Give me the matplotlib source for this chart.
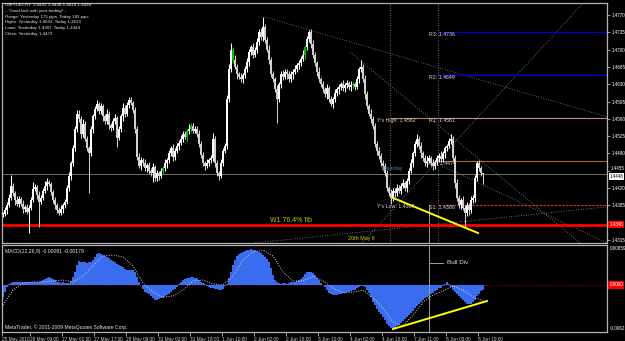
import numpy as np
import matplotlib.pyplot as plt
from matplotlib import font_manager
from matplotlib.transforms import blended_transform_factory

# pick a narrow font if we have one (MT4 uses a small condensed font)
installed = {f.name for f in font_manager.fontManager.ttflist}
small_font = 'Liberation Sans Narrow' if 'Liberation Sans Narrow' in installed else 'Liberation Sans'
k = 1.0 if small_font == 'Liberation Sans Narrow' else 0.82
plt.rcParams['font.family'] = [small_font, 'DejaVu Sans']

# GBPUSD H1 closes, pips above 1.4000, one row per 16 bars
close_pips = [
    368, 375, 385, 400, 425, 410, 395, 388, 398, 388, 378, 382, 372, 380, 395, 418,
    422, 405, 392, 400, 415, 425, 432, 428, 412, 395, 385, 375, 370, 378, 385, 392,
    420, 445, 470, 500, 540, 570, 560, 530, 550, 520, 500, 490, 540, 565, 580, 590,
    575, 585, 565, 555, 570, 548, 542, 556, 562, 522, 540, 565, 582, 570, 588, 598,
    592, 578, 540, 482, 465, 476, 470, 460, 466, 455, 450, 462, 440, 450, 445, 455,
    460, 470, 476, 490, 500, 482, 495, 505, 512, 520, 530, 524, 535, 540, 546, 536,
    540, 530, 510, 486, 470, 465, 470, 476, 480, 520, 470, 450, 445, 470, 495, 505,
    600, 660, 700, 680, 665, 650, 645, 640, 648, 660, 675, 695, 705, 690, 700, 715,
    735, 725, 745, 720, 700, 680, 650, 640, 620, 600, 630, 650, 645, 655, 650, 640,
    650, 655, 660, 668, 672, 682, 690, 705, 722, 735, 712, 690, 672, 655, 640, 630,
    620, 610, 622, 600, 590, 600, 612, 620, 625, 630, 622, 628, 632, 625, 628, 630,
    625, 640, 660, 665, 640, 610, 585, 570, 560, 545, 510, 495, 485, 470, 465, 450,
    420, 410, 400, 415, 410, 420, 415, 425, 430, 420, 435, 455, 470, 490, 510, 520,
    505, 490, 480, 470, 475, 480, 470, 465, 472, 480, 485, 478, 490, 500, 505, 515,
    520, 480, 430, 400, 385, 395, 380, 370, 385, 375, 395, 400, 440, 470, 460, 450,
    448,
]
# upper / lower shadow lengths in pips
wick_hi = [
    4, 7, 6, 8, 21, 5, 4, 9, 5, 4, 7, 4, 6, 5, 7, 14,
    6, 4, 8, 6, 5, 9, 8, 4, 5, 4, 7, 4, 6, 8, 4, 6,
    6, 7, 5, 8, 6, 8, 8, 5, 9, 5, 6, 5, 6, 5, 6, 8,
    5, 8, 5, 4, 9, 5, 4, 6, 8, 4, 6, 5, 9, 5, 6, 7,
    6, 5, 5, 6, 8, 6, 5, 9, 5, 6, 5, 8, 5, 6, 5, 6,
    5, 8, 5, 6, 5, 9, 5, 6, 5, 8, 5, 6, 5, 9, 5, 6,
    6, 5, 8, 5, 6, 5, 9, 5, 6, 11, 5, 6, 5, 8, 5, 6,
    8, 10, 13, 6, 9, 6, 5, 8, 5, 6, 9, 6, 5, 8, 5, 8,
    6, 8, 21, 6, 5, 9, 5, 6, 5, 8, 5, 6, 9, 6, 5, 6,
    6, 5, 8, 5, 6, 5, 9, 5, 6, 5, 6, 8, 6, 5, 9, 5,
    6, 5, 8, 5, 6, 5, 9, 5, 6, 5, 8, 5, 6, 5, 9, 5,
    5, 6, 5, 14, 6, 8, 6, 5, 9, 5, 6, 5, 8, 5, 6, 5,
    6, 5, 8, 5, 6, 9, 6, 5, 8, 5, 6, 5, 9, 5, 6, 9,
    5, 8, 5, 6, 9, 6, 5, 8, 5, 6, 5, 9, 5, 6, 5, 6,
    9, 5, 6, 8, 6, 5, 9, 5, 6, 5, 8, 5, 6, 5, 6, 5,
    0,
]
wick_lo = [
    6, 4, 8, 4, 5, 6, 9, 4, 6, 5, 8, 6, 5, 43, 5, 4,
    5, 8, 51, 5, 4, 6, 9, 4, 6, 5, 8, 6, 5, 4, 9, 6,
    5, 6, 8, 6, 5, 7, 6, 9, 6, 5, 5, 80, 6, 8, 6, 5,
    6, 5, 9, 5, 6, 8, 6, 5, 6, 20, 5, 6, 9, 6, 5, 6,
    5, 6, 8, 6, 5, 9, 5, 6, 8, 6, 5, 18, 6, 5, 9, 5,
    6, 5, 9, 5, 6, 8, 6, 5, 9, 5, 6, 5, 8, 5, 6, 5,
    5, 6, 8, 6, 5, 9, 5, 6, 5, 6, 8, 6, 8, 5, 6, 5,
    6, 5, 6, 8, 5, 9, 5, 6, 8, 6, 5, 9, 5, 6, 5, 6,
    5, 6, 8, 6, 5, 9, 5, 6, 5, 49, 6, 8, 6, 5, 9, 5,
    5, 9, 5, 6, 8, 6, 5, 9, 5, 6, 8, 6, 5, 9, 5, 6,
    5, 6, 9, 6, 5, 8, 5, 6, 9, 6, 5, 8, 5, 6, 9, 6,
    6, 5, 8, 5, 6, 9, 6, 5, 8, 5, 6, 9, 6, 5, 8, 5,
    5, 6, 13, 6, 9, 6, 5, 8, 5, 6, 9, 6, 5, 8, 5, 6,
    6, 9, 6, 5, 8, 5, 6, 9, 6, 5, 8, 5, 6, 9, 6, 5,
    5, 6, 9, 6, 5, 8, 5, 26, 6, 9, 6, 5, 8, 5, 6, 5,
    19,
]
green_bars = [80, 92, 94, 115, 151, 175]

# MACD main (histogram), units of 1e-5
macd_hist = [
    -180, -100, -30,
    15, 30, 40, 45, 45, 40, 45, 50, 45, 40, 45,
    45, 40, 45, 50, 45, 60, 75, 90,
    110, 120, 110, 90, 70,
    50, 40, 35, 40, 30, 25, 30, 60,
    120, 200, 300, 360,
    340, 350, 340, 330, 345, 350, 380,
    420, 460, 480, 470, 450,
    440, 420, 400, 380, 360, 340, 320, 300, 280, 270,
    240, 230, 230, 225, 220, 200,
    120, 40, 0,
    -60, -100, -120, -140,
    -170, -200, -220, -225, -210, -200, -190, -170,
    -150, -130, -100, -80, -60, -30,
    10, 40, 70, 90, 100, 110, 115, 120, 110, 100, 80,
    50, 30, 10, -10, -30,
    -40, -50, -60, -60, -70, -80, -60, -20,
    20, 100, 200, 300, 380, 430, 460,
    480, 500, 510, 520, 530, 540, 530, 520, 510, 500,
    480, 450, 420, 390, 350,
    250, 150, 80, 50,
    30, 20, 25, 30, 20, 30, 40, 45, 50, 60, 70,
    90, 120, 160, 190, 200, 195, 180,
    150, 110, 70, 30, 0, -30,
    -80, -120, -140, -150, -155, -150, -140,
    -130, -125, -120, -110, -100, -90, -80, -70, -50, -30,
    -20, -10, -30,
    -70, -120, -180,
    -250, -300, -360, -400,
    -440, -480, -520, -580, -620,
    -650, -660, -650,
    -620, -600, -570, -540, -510,
    -480, -450, -420, -390, -350, -310, -280,
    -250, -220, -200, -180, -160, -140, -120,
    -90, -70, -50, -40, -20, 10,
    40, 20, -30,
    -80, -110, -140, -160,
    -200, -230, -260, -280, -290, -280, -260, -220,
    -170, -130, -90, -70,
]
# MACD signal line, read every 5 bars, units of 1e-5
signal_step = 5
macd_signal = [
    -300, -75, 30, 45, 45, 60, 75, 45, 135, 285,
    435, 450, 420, 285, 30, -105, -180, -165, -75, 60,
    75, 15, 0, 135, 375, 495, 525, 435, 195, 60,
    60, 135, 60, -45, -120, -105, -75, -195, -345, -555,
    -615, -450, -255, -150, -90, -15, -75, -180, -240,
]

price_ticks = [1.4770, 1.4735, 1.4700, 1.4665, 1.4630, 1.4595, 1.4560,
               1.4525, 1.4490, 1.4455, 1.4420, 1.4385, 1.4350, 1.4315]
hidden_ticks = [1.4350]          # covered by the red level box
date_labels = ['25 May 2010', '26 May 09:00', '27 May 01:00', '27 May 17:00',
               '28 May 09:00', '31 May 02:00', '31 May 18:00', '1 Jun 10:00',
               '2 Jun 02:00', '2 Jun 18:00', '3 Jun 10:00', '4 Jun 02:00',
               '4 Jun 18:00', '7 Jun 11:00', '8 Jun 03:00', '8 Jun 19:00']
date_bars = [-0.5, 13.5, 29.5, 45.5, 61.5, 77.5, 93.5, 109.5, 125.5,
             141.5, 157.5, 173.5, 189.5, 205.5, 221.5, 237.5]

# pivot levels
r3, r2, r1 = 1.4736, 1.4649, 1.4561
pivot, s1 = 1.4474, 1.4386
y_high, y_low = 1.4562, 1.4387
bid = 1.4448
fib_w1 = 1.4346
level_start = 217.5      # bar where today's pivot lines start
yday_start = 193.5
bull_div_bar = 213

# dotted trend / fan lines: (bar0, price0, bar1, price1)
fan_lines = [
    (131, 1.4766, 302, 1.4564),
    (173.5, 1.4695, 288.5, 1.4309),
    (179.5, 1.4309, 290, 1.4794),
    (126, 1.4309, 302, 1.4382),
    (218.5, 1.4467, 302, 1.4309),
]
price_div = [(195, 1.4400), (237.5, 1.4329)]
macd_div = [(195, -0.0066), (242, -0.0024)]

header = ['GBPUSD,H1  1.4442 1.4448 1.4429 1.4448',
          '-- Good luck with your trading! --',
          'Range: Yesterday 175 pips, Today 185 pips',
          'Highs: Yesterday 1.4562, Today 1.4529',
          'Lows: Yesterday 1.4387, Today 1.4344',
          'Close: Yesterday 1.4473']

W, H = 625, 341
fig = plt.figure(figsize=(W / 100, H / 100), dpi=100, facecolor='black')
ax = fig.add_axes([2 / W, 1 - 243 / H, 605 / W, 240 / H])
axm = fig.add_axes([2 / W, 1 - 332 / H, 605 / W, 87 / H])
frame = '#b4b4b4'
for a in (ax, axm):
    a.set_facecolor('black')
    for s in a.spines.values():
        s.set_color(frame)
        s.set_linewidth(0.9)
    a.set_xlim(-0.5, 302)

# ---- price pane
close = 1.4 + np.array(close_pips) / 1e4
open_ = np.r_[close[0], close[:-1]]
high = np.maximum(open_, close) + np.array(wick_hi) / 1e4
low = np.minimum(open_, close) - np.array(wick_lo) / 1e4
bars = np.arange(len(close))
colors = np.where(close >= open_, '#ffffff', '#d0d0d0').astype('<U7')
colors[green_bars] = '#00c000'

ax.axhline(bid, color='#808080', lw=0.6, zorder=1)
ax.axhline(fib_w1, color='#ff0000', lw=2.0, zorder=2)
for b0, p0, b1, p1 in fan_lines:
    ax.plot([b0, b1], [p0, p1], color='#909090', lw=0.6, ls=(0, (1, 2)), zorder=1)
for xb in (yday_start, level_start):
    ax.axvline(xb, color='#909090', lw=0.6, ls=(0, (1, 2)), zorder=1)
ax.plot([bull_div_bar, bull_div_bar], [1.4300, s1], color='#a0a0a0', lw=0.7, zorder=1)

ax.hlines([r3, r2], level_start, 302, color='#0000c8', lw=1.0, zorder=2)
ax.hlines(y_high, yday_start, level_start, color='#c08050', lw=0.8, zorder=2)
ax.hlines(r1, level_start, 302, color='#c09090', lw=0.8, zorder=2)
ax.hlines(pivot, level_start, 302, color='#b0602a', lw=0.8, zorder=2)
ax.hlines(s1, level_start, 302, color='#c03030', lw=0.9, ls=(0, (2, 1)), zorder=2)

ax.vlines(bars, low, high, colors=colors, lw=0.75, zorder=3)
ax.bar(bars, np.maximum(np.abs(close - open_), 0.00008), bottom=np.minimum(open_, close),
       width=0.85, color=colors, linewidth=0, zorder=3)

ax.plot(*zip(*price_div), color='#ffff00', lw=1.4, zorder=4)

lab = dict(color='#d8d8d8', fontsize=4.6 * k, va='top', zorder=5)
ax.text(187, y_high, "Y's High: %.4f" % y_high, **lab)
ax.text(213, r1, 'R1: %.4f' % r1, **lab)
ax.text(213, r2, 'R2: %.4f' % r2, **lab)
ax.text(213, r3, 'R3: %.4f' % r3, **lab)
ax.text(211, pivot, 'Pivot: %.4f' % pivot, **lab)
ax.text(187, y_low, "Y's Low: %.4f" % y_low, **lab)
ax.text(213, s1, 'S1: %.4f' % s1, **lab)
ax.text(189, 1.4460, 'Yesterday', color='#4f8fb0', fontsize=4.4 * k, va='center', zorder=5)
ax.text(133.5, fib_w1 + 0.0002, 'W1 76.4% fib', color='#c8c800', fontsize=6.2 * k,
        va='bottom', zorder=5)
ax.text(172.5, 1.4317, '20th May lt', color='#d0d000', fontsize=4.7 * k, va='center', zorder=5)

ax.set_ylim(1.43088, 1.47943)
ax.yaxis.tick_right()
ax.set_yticks(price_ticks, ['' if (t in hidden_ticks or t == 1.4455) else '%.4f' % t
                            for t in price_ticks])
ax.tick_params(axis='y', colors=frame, labelcolor='white', labelsize=4.0 * k,
               length=2, width=0.6, pad=1.5)
ax.set_xticks([])

tr = blended_transform_factory(ax.transAxes, ax.transData)
# the 1.4455 label peeks out just above the bid box
ax.text(1.006, 1.4455, '1.4455', transform=tr, fontsize=4.0 * k, color='white',
        va='bottom', ha='left')
ax.text(1.004, bid, '%.4f' % bid, transform=tr, fontsize=4.0 * k, color='black',
        va='top', ha='left', zorder=6,
        bbox=dict(fc='white', ec='none', pad=0.6))
ax.text(1.004, fib_w1, '%.4f' % fib_w1, transform=tr, fontsize=4.0 * k, color='white',
        va='center', ha='left', zorder=6,
        bbox=dict(fc='#ff0000', ec='none', pad=0.8))

for i, line in enumerate(header):
    fig.text(5 / W, 1 - (5 + 5.8 * i) / H, line, color='#e8e8e8', fontsize=3.8 * k,
             va='center', ha='left')

# ---- MACD pane
macd = np.array(macd_hist) / 1e5
sig = np.array(macd_signal) / 1e5
axm.axhline(0, color='#c00000', lw=0.7, ls=(0, (1, 2)))
axm.bar(np.arange(len(macd)), macd, width=0.75, color='#3a6cf0', linewidth=0, zorder=2)
axm.plot(np.arange(len(sig)) * signal_step, sig, color='#d0d0d0', lw=0.7,
         ls=(0, (1, 1.5)), zorder=3)
axm.plot(*zip(*macd_div), color='#ffff00', lw=1.4, zorder=4)
axm.axvline(bull_div_bar, color='#a0a0a0', lw=0.7, zorder=3)
axm.plot([bull_div_bar, 220], [0.0033, 0.0033], color='#a0a0a0', lw=0.7)
axm.text(222, 0.0033, 'Bull Div', color='#d8d8d8', fontsize=5.6 * k, va='center')
axm.set_ylim(-0.00705, 0.0060)
axm.set_yticks([])
axm.text(0.005, 0.93, 'MACD(12,26,9) -0.00081 -0.00179', transform=axm.transAxes,
         color='#e8e8e8', fontsize=4.5 * k, va='center')
axm.text(0.005, 0.06, 'MetaTrader, \u00a9 2001-2009 MetaQuotes Software Corp.',
         transform=axm.transAxes, color='#e8e8e8', fontsize=4.4 * k, va='center')
axm.text(1.004, 0.965, '0.00859', transform=axm.transAxes, color='white',
         fontsize=4.0 * k, va='center')
axm.text(1.004, 0.035, '-0.0062', transform=axm.transAxes, color='white',
         fontsize=4.0 * k, va='center')
trm = blended_transform_factory(axm.transAxes, axm.transData)
axm.text(1.004, 0, '0.0000', transform=trm, color='white', fontsize=4.0 * k,
         va='center', bbox=dict(fc='#ff0000', ec='none', pad=0.8))

axm.set_xticks(date_bars, date_labels)
for t in axm.get_xticklabels():
    t.set_ha('left')
axm.tick_params(axis='x', colors=frame, labelcolor='#d0d0d0', labelsize=4.2 * k,
                length=3, width=0.6, pad=0.5)

fig.savefig('out.png', dpi=100, facecolor='black')
